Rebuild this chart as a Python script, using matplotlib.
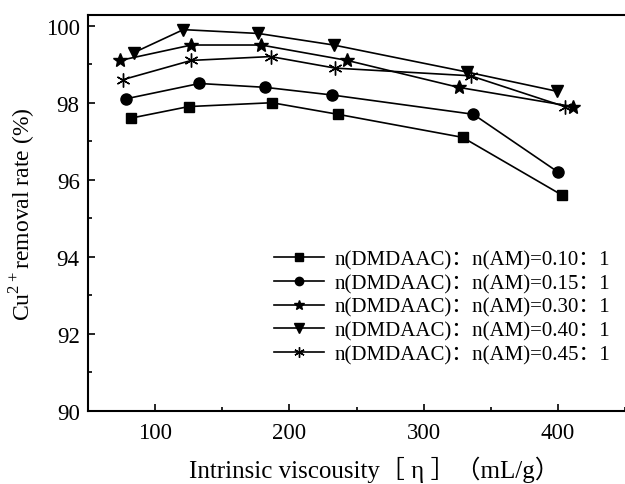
import numpy as np
import matplotlib
matplotlib.use("Agg")
import matplotlib.pyplot as plt
from matplotlib.ticker import MultipleLocator

plt.rcParams['font.family'] = ['Liberation Serif', 'Noto Sans CJK SC', 'DejaVu Sans']
plt.rcParams['mathtext.fontset'] = 'custom'
plt.rcParams['mathtext.rm'] = 'Liberation Serif'

# intrinsic viscosity (mL/g) and Cu2+ removal rate (%) for each DMDAAC:AM ratio
x_010 = [82, 125, 187, 236, 329, 403]
y_010 = [97.6, 97.9, 98.0, 97.7, 97.1, 95.6]
x_015 = [78, 133, 182, 232, 337, 400]
y_015 = [98.1, 98.5, 98.4, 98.2, 97.7, 96.2]
x_030 = [74, 127, 179, 243, 326, 411]
y_030 = [99.1, 99.5, 99.5, 99.1, 98.4, 97.9]
x_040 = [84, 121, 177, 233, 332, 399]
y_040 = [99.3, 99.9, 99.8, 99.5, 98.8, 98.3]
x_045 = [76, 127, 186, 234, 335, 405]
y_045 = [98.6, 99.1, 99.2, 98.9, 98.7, 97.9]

labels = ["n(DMDAAC)：n(AM)=0.10：1",
          "n(DMDAAC)：n(AM)=0.15：1",
          "n(DMDAAC)：n(AM)=0.30：1",
          "n(DMDAAC)：n(AM)=0.40：1",
          "n(DMDAAC)：n(AM)=0.45：1"]

series = [(x_010, y_010, 's', 7), (x_015, y_015, 'o', 8), (x_030, y_030, '*', 10),
          (x_040, y_040, 'v', 9), (x_045, y_045, (6, 2, 0), 10)]

fig = plt.figure(figsize=(6.25, 4.85), dpi=100)
ax = fig.add_axes([0.1408, 0.1515, 0.8592, 0.8155])

for (xs, ys, m, ms), lab in zip(series, labels):
    ax.plot(xs, ys, color='black', linewidth=1.2, marker=m, markersize=ms,
            markeredgewidth=1.0, label=lab)

ax.set_xlim(50, 450)
ax.set_ylim(90, 100.28)
ax.xaxis.set_major_locator(MultipleLocator(100))
ax.xaxis.set_minor_locator(MultipleLocator(50))
ax.yaxis.set_major_locator(MultipleLocator(2))
ax.yaxis.set_minor_locator(MultipleLocator(1))
ax.tick_params(which='both', direction='in', labelsize=16.5, width=1.2)
ax.tick_params(which='major', length=5, pad=6)
ax.tick_params(which='minor', length=3)
ax.tick_params(axis='x', pad=8)
ax.spines['right'].set_visible(False)
for s in ['left', 'bottom', 'top']:
    ax.spines[s].set_linewidth(1.5)

ax.set_xlabel("Intrinsic viscousity［ η ］（mL/g）", fontsize=18)
ax.xaxis.set_label_coords(0.534, -0.115)
ax.set_ylabel("Cu$^{2+}$removal rate (%)", fontsize=17)
ax.yaxis.set_label_coords(-0.093, 0.5)

ax.legend(loc='lower right', bbox_to_anchor=(1.0, 0.08), frameon=False,
          fontsize=15, markerscale=0.75, handlelength=2.4, handletextpad=0.5,
          labelspacing=0.2, borderpad=0.2)

fig.savefig("out.png", dpi=100)
